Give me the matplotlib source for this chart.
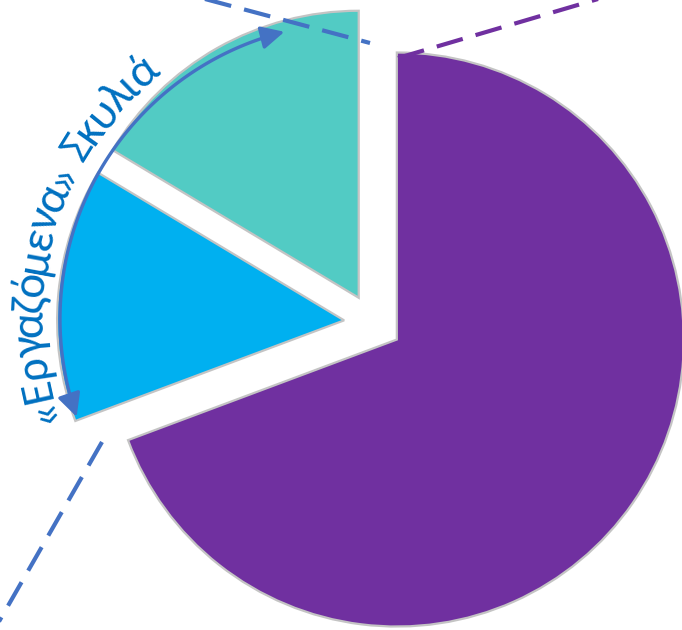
import numpy as np
import matplotlib
matplotlib.use("Agg")
import matplotlib.pyplot as plt
from matplotlib.patches import FancyArrowPatch
from matplotlib.path import Path
from matplotlib import font_manager
from matplotlib.font_manager import FontProperties, findfont, get_font

# shares of the three slices, clockwise from the top
shares = [69.3, 14.3, 16.4]
colors = ["#7030A0", "#00B0F0", "#52CBC4"]
label = "«Εργαζόμενα» Σκυλιά"

# Calibri-like face
installed = {f.name for f in font_manager.fontManager.ttflist}
candidates = ["Carlito", "Roboto Condensed", "Noto Sans"]
family = next(f for f in candidates if f in installed)

W, H = 682, 630
fig = plt.figure(figsize=(W / 100, H / 100), dpi=100)
ax = fig.add_axes([0, 0, 1, 1])

# pie drawn in pixel-like data units (y up)
ax.pie(shares, colors=colors, startangle=90, counterclock=False,
       explode=[29, 29, 29], radius=287, center=(373, H - 323),
       wedgeprops=dict(edgecolor="#c4c4c4", linewidth=1.6))
ax.set_xlim(0, W)
ax.set_ylim(0, H)
ax.set_aspect("equal")
ax.axis("off")

# dashed callout lines
blue = "#4472C4"
dash = (0, (6.5, 3.2))
ax.plot([205, 370], [H + 1, H - 43], color=blue, lw=3, ls=dash)
ax.plot([102, -3], [H - 442, H - 625], color=blue, lw=3, ls=dash)
ax.plot([398, 598], [H - 58, H + 1], color="#7030A0", lw=3, ls=dash)

# double-headed arc arrow along the two small slices
ac = (356, H - 319)
ar = 296
th = np.radians(np.linspace(199.3, 104.0, 120))
pts = np.column_stack([ac[0] + ar * np.cos(th), ac[1] + ar * np.sin(th)])
codes = [Path.MOVETO] + [Path.LINETO] * (len(pts) - 1)
arrow = FancyArrowPatch(path=Path(pts, codes),
                        arrowstyle="<|-|>,head_length=0.7,head_width=0.35",
                        mutation_scale=20, color=blue, lw=2.4,
                        shrinkA=0, shrinkB=0)
ax.add_patch(arrow)

# curved label, one character at a time along a circle round the arc centre
fs = 34
tr = 314
a0 = np.radians(198.4)
a1 = np.radians(128.5)
arc_len = (a0 - a1) * tr

font = get_font(findfont(FontProperties(family=family)))
font.set_size(fs, 100)
adv = np.array([font.load_char(ord(c)).linearHoriAdvance for c in label], float)
adv *= arc_len / adv.sum()  # tracking so the label spans the arc
mids = np.cumsum(adv) - adv / 2
for ch, m in zip(label, mids):
    if ch == " ":
        continue
    t = a0 - m / tr
    ax.text(ac[0] + tr * np.cos(t), ac[1] + tr * np.sin(t), ch,
            rotation=np.degrees(t) - 90, rotation_mode="anchor",
            ha="center", va="baseline", fontsize=fs,
            family=family, color="#0070C0")

fig.savefig("out.png", dpi=100)
